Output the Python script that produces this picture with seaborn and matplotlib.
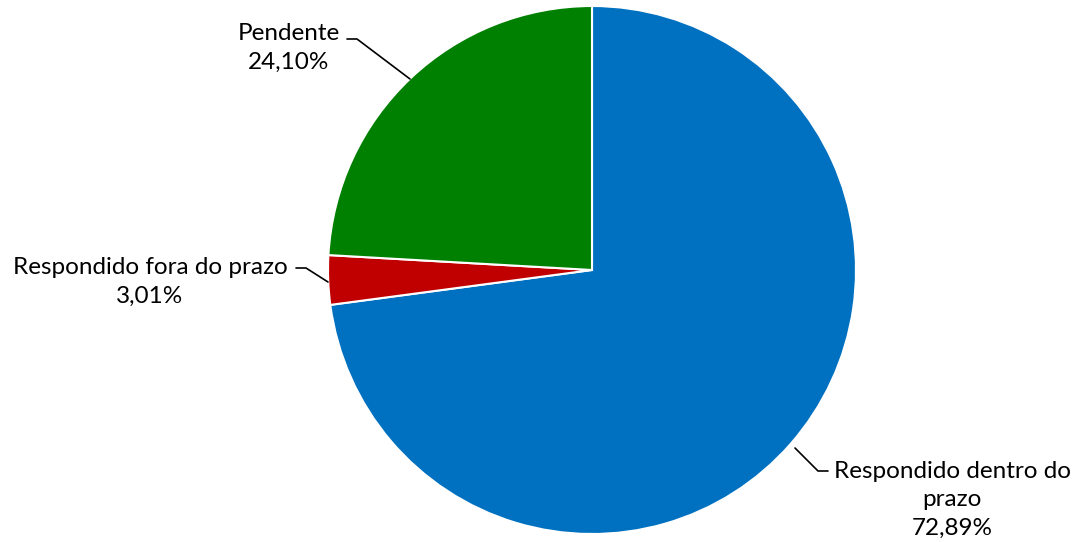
import matplotlib
matplotlib.use("Agg")
import matplotlib.pyplot as plt
import seaborn as sns

categories = ["Respondido dentro do prazo", "Respondido fora do prazo", "Pendente"]
values = [72.89, 3.01, 24.10]
label_texts = ["Respondido dentro do\nprazo\n72,89%",
               "Respondido fora do prazo\n3,01%",
               "Pendente\n24,10%"]
colors = ["#0070C0", "#C00000", "#008000"]

sns.set_theme(style="white")
plt.rcParams['font.family'] = ['Lato', 'DejaVu Sans']

W, H = 1078, 542
fig = plt.figure(figsize=(W / 100, H / 100), dpi=100)
ax = fig.add_axes([0, 0, 1, 1])

# pixel based coordinates, y measured from the bottom
cx, cy, r = 592, H - 270, 264
ax.pie(values, colors=colors, startangle=90, counterclock=False,
       center=(cx, cy), radius=r,
       wedgeprops=dict(edgecolor="white", linewidth=1.5))
ax.set_xlim(0, W)
ax.set_ylim(0, H)
ax.set_aspect("equal")
ax.axis("off")

# label blocks (x, y from top) and leader lines
label_pos = [(952, 500), (150, 282), (289, 48)]
leaders = [
    [(795, 448), (818, 471), (828, 471)],
    [(328, 282), (306, 268), (296, 268)],
    [(410, 79), (357, 39), (347, 39)],
]
for txt, (lx, ly), pts in zip(label_texts, label_pos, leaders):
    ax.text(lx, H - ly, txt, ha="center", va="center", fontsize=17.5,
            linespacing=1.45, color="black")
    xs = [p[0] for p in pts]
    ys = [H - p[1] for p in pts]
    ax.plot(xs, ys, color="black", linewidth=1.2)

fig.savefig("out.png", dpi=100)
plt.close()
